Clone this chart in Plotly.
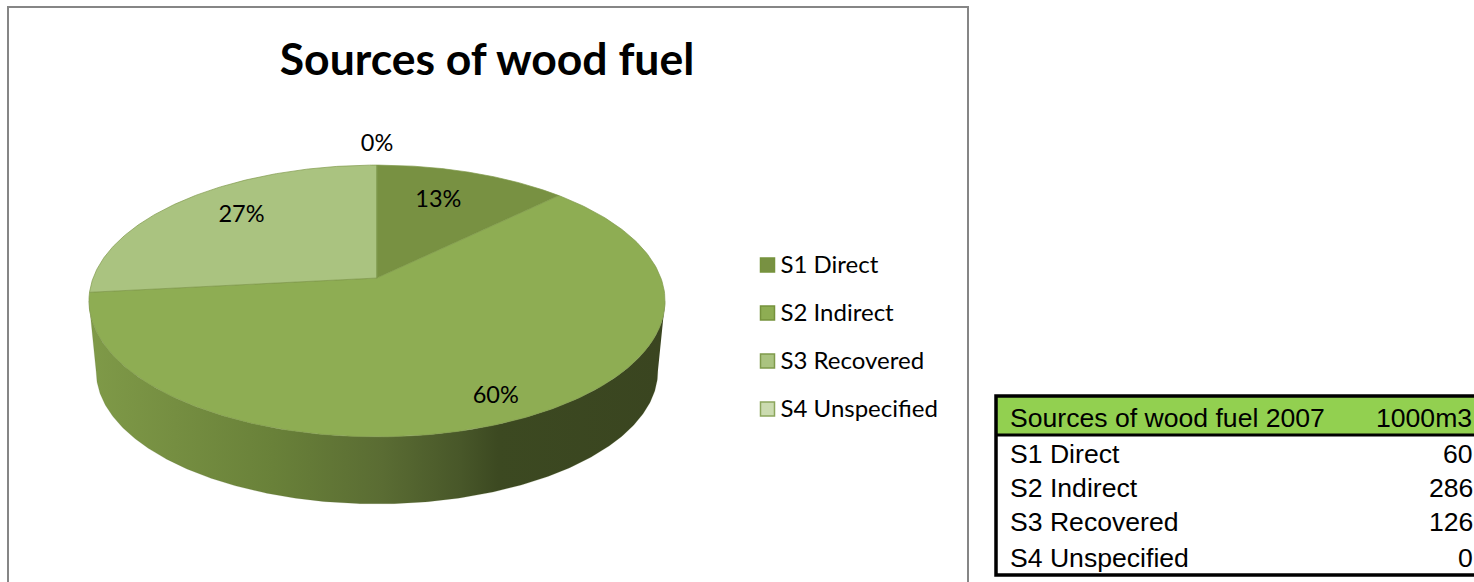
import numpy as np
import plotly.graph_objects as go

title = "Sources of wood fuel"
categories = ["S1 Direct", "S2 Indirect", "S3 Recovered", "S4 Unspecified"]
values = [60, 286, 126, 0]
pct_labels = ["13%", "60%", "27%", "0%"]
table_header = ["Sources of wood fuel 2007", "1000m3"]

slice_colors = ["#789142", "#8EAD53", "#AAC380", "#CBDBB0"]
legend_lines = ["#76923C", "#76923C", "#7F9A4B", "#8CA65C"]
label_radius = [0.70, 0.855, 0.735, 1.235]
label_turn_deg = [-2.8, 0.0, 3.1, 0.0]

CX, CY = 377.0, 278.0
A, B, K = 283.9, 132.0, 0.169
BOTTOM_SCALE, BOTTOM_CY = 0.975, 349.0
CAT = "Lato"
ARIAL = "Liberation Sans"
W, H = 1474, 582


def project(theta, r=1.0, s=1.0, cy=CY):
    u, v = r * np.sin(theta), r * np.cos(theta)
    d = 1 + K * v
    return CX + s * A * u / d, cy - s * B * v / d


fig = go.Figure()

# side wall: front arc of the top disk, back along the bottom disk
ext = np.arccos(-K)
arc = np.linspace(ext, 2 * np.pi - ext, 300)
tx, ty = project(arc)
bx, by = project(arc[::-1], s=BOTTOM_SCALE, cy=BOTTOM_CY)
fig.add_trace(go.Scatter(
    x=np.r_[tx, bx], y=np.r_[ty, by], mode="lines", fill="toself",
    line=dict(color="rgba(90,110,50,0.35)", width=0.5),
    fillgradient=dict(type="horizontal", colorscale=[
        [0.0, "#7F9A48"], [0.15, "#758E41"], [0.32, "#698139"], [0.51, "#5A6C33"],
        [0.645, "#485729"], [0.71, "#3C4921"], [1.0, "#3A4520"]]),
    hoverinfo="skip", showlegend=False))

# top disk
total = sum(values)
edges = np.r_[0, np.cumsum(values)] / total * 2 * np.pi
for i, name in enumerate(categories):
    th = np.linspace(edges[i], edges[i + 1], 220)
    px, py = project(th)
    fig.add_trace(go.Scatter(
        x=np.r_[CX, px, CX], y=np.r_[CY, py, CY], mode="lines", fill="toself",
        fillcolor=slice_colors[i], line=dict(color="#7F9A4B", width=0.7),
        name=name, hoverinfo="name", showlegend=False))

# data labels
mids = (edges[:-1] + edges[1:]) / 2 + np.radians(label_turn_deg)
lx, ly = zip(*[project(m, r=r) for m, r in zip(mids, label_radius)])
fig.add_trace(go.Scatter(
    x=lx, y=np.array(ly) + 1.5, mode="text", text=pct_labels, textposition="middle center",
    textfont=dict(family=CAT, size=23.5, color="#000000"),
    hoverinfo="skip", showlegend=False))

# legend
for i, name in enumerate(categories):
    fig.add_trace(go.Scatter(
        x=[767.5], y=[265 + 48 * i], mode="markers",
        marker=dict(symbol="square", size=14, color=slice_colors[i],
                    line=dict(color=legend_lines[i], width=1.5)),
        name=name, hoverinfo="name", showlegend=False))
    fig.add_trace(go.Scatter(
        x=[780.5], y=[267 + 48 * i], mode="text", text=[name], textposition="middle right",
        textfont=dict(family=CAT, size=24, color="#000000"),
        hoverinfo="skip", showlegend=False))

shapes = [
    # chart frame
    dict(type="rect", x0=8, y0=7, x1=968, y1=600, line=dict(color="#868686", width=2),
         fillcolor="rgba(0,0,0,0)", layer="below"),
    # table
    dict(type="rect", x0=996, y0=396, x1=1480, y1=435, fillcolor="#92D050", line=dict(width=0), layer="below"),
    dict(type="rect", x0=996, y0=396, x1=1480, y1=575, fillcolor="rgba(0,0,0,0)",
         line=dict(color="#000000", width=3.5), layer="above"),
    dict(type="line", x0=996, y0=435, x1=1480, y1=435, line=dict(color="#000000", width=3)),
]

annotations = []
def cell(x, y, txt, anchor, shift=0):
    annotations.append(dict(x=x, y=y, text=txt, showarrow=False, xanchor=anchor, yanchor="middle",
                            xshift=shift, font=dict(family=ARIAL, size=26.6, color="#000000")))

cell(1008, 418, table_header[0], "left")
cell(1474, 418, table_header[1], "right")
for i, (c, v) in enumerate(zip(categories, values)):
    yy = [454, 488, 522, 558][i]
    cell(1008, yy, c, "left")
    cell(1474, yy, str(v), "right", shift=1)

fig.update_layout(
    width=W, height=H, autosize=False,
    margin=dict(l=0, r=0, t=0, b=0, pad=0),
    paper_bgcolor="#FFFFFF", plot_bgcolor="#FFFFFF",
    title=dict(text=f"<b>{title}</b>", x=487 / W, y=1 - 59 / H, xanchor="center",
               yanchor="middle", font=dict(family=CAT, size=44.5, color="#000000")),
    xaxis=dict(range=[0, W], visible=False, fixedrange=True),
    yaxis=dict(range=[H, 0], visible=False, fixedrange=True),
    shapes=shapes, annotations=annotations, showlegend=False,
)
fig.write_html(
    "out.html", config=dict(displayModeBar=False),
    post_script="document.body.style.margin='0';document.documentElement.style.overflow='hidden';",
)
